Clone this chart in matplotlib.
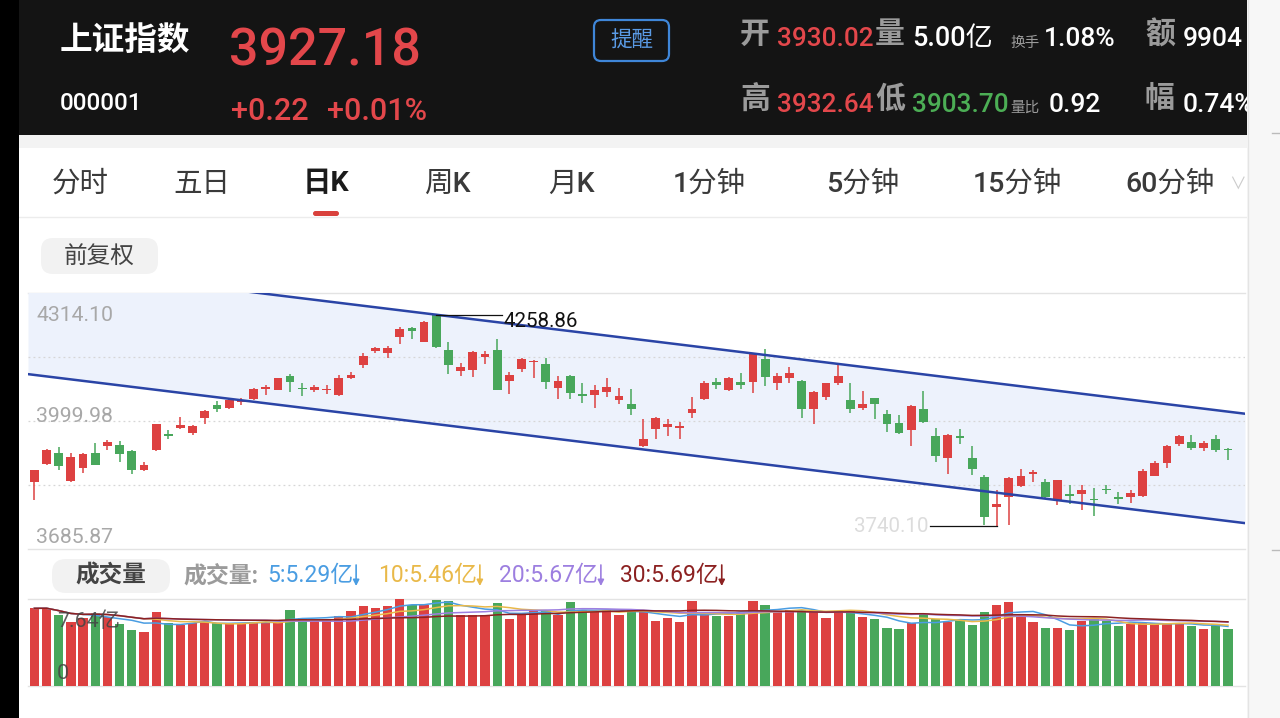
import numpy as np
import pandas as pd
import matplotlib
matplotlib.use('Agg')
import matplotlib.pyplot as plt
from matplotlib.patches import Rectangle, FancyBboxPatch

plt.rcParams['font.family'] = ['Roboto', 'Noto Sans CJK SC', 'DejaVu Sans']

# daily K, oldest first
opens = [3849.3, 3892.8, 3921.6, 3851.8, 3884.6, 3919.9, 3938.0, 3939.6, 3924.9, 3879.7,
         3929.0, 3968.4, 3983.2, 3970.8, 4007.8, 4038.2, 4031.6, 4046.4, 4054.6, 4079.2,
         4076.8, 4109.6, 4081.7, 4076.8, 4075.1, 4062.8, 4105.5, 4136.7, 4172.0, 4165.5,
         4206.5, 4228.7, 4194.2, 4258.86, 4173.7, 4122.8, 4124.4, 4155.6, 4173.7, 4097.3,
         4126.1, 4143.3, 4138.4, 4081.7, 4109.6, 4065.3, 4064.5, 4071.0, 4052.2, 4042.3,
         3937.2, 3979.1, 3984.8, 3983.2, 4019.3, 4053.0, 4094.8, 4075.1, 4095.7, 4095.7,
         4151.5, 4091.6, 4106.3, 4097.3, 4028.3, 4058.7, 4091.6, 4052.2, 4032.4, 4057.1,
         4017.7, 3994.7, 3978.2, 4030.0, 3962.6, 3909.3, 3962.6, 3909.3, 3861.6, 3787.7,
         3812.4, 3839.5, 3868.2, 3849.3, 3805.8, 3818.9, 3820.6, 3808.3, 3832.9, 3812.4,
         3812.4, 3814.0, 3864.1, 3896.1, 3943.8, 3947.9, 3933.9, 3954.4, 3930.02]
highs = [3879.0, 3930.6, 3935.5, 3920.8, 3920.8, 3946.2, 3953.6, 3950.3, 3927.3, 3898.6,
         3993.0, 3976.6, 4009.4, 3989.7, 4025.9, 4048.0, 4053.8, 4057.1, 4081.7, 4087.5,
         4106.3, 4114.6, 4091.6, 4089.1, 4087.5, 4112.1, 4120.3, 4167.1, 4180.3, 4183.5,
         4229.5, 4231.2, 4246.0, 4258.86, 4192.6, 4142.5, 4171.2, 4171.2, 4199.9, 4120.3,
         4154.8, 4149.0, 4153.2, 4109.6, 4112.1, 4091.6, 4089.1, 4106.3, 4080.9, 4077.6,
         4005.3, 4010.3, 4005.3, 3997.1, 4058.7, 4098.1, 4103.9, 4108.0, 4116.2, 4165.5,
         4175.3, 4116.2, 4132.6, 4099.8, 4073.5, 4094.0, 4140.8, 4093.2, 4073.5, 4057.1,
         4027.5, 4013.5, 4038.2, 4073.5, 3982.4, 3966.7, 3980.7, 3938.0, 3867.4, 3828.8,
         3861.6, 3882.2, 3878.0, 3857.5, 3855.1, 3841.1, 3842.7, 3835.3, 3842.7, 3824.7,
         3828.8, 3880.5, 3900.2, 3939.6, 3965.9, 3964.3, 3950.3, 3965.9, 3932.64]
lows = [3805.8, 3891.2, 3879.7, 3850.1, 3871.5, 3891.5, 3929.0, 3898.6, 3869.8, 3876.4,
        3925.7, 3954.4, 3980.7, 3965.1, 3991.4, 4020.9, 4030.0, 4038.2, 4050.5, 4062.8,
        4075.1, 4071.0, 4061.2, 4071.0, 4065.3, 4062.0, 4102.2, 4130.2, 4165.5, 4154.8,
        4187.6, 4201.6, 4192.6, 4178.6, 4114.6, 4109.6, 4108.0, 4139.2, 4075.1, 4066.9,
        4120.3, 4103.9, 4077.6, 4054.6, 4054.6, 4044.7, 4032.4, 4058.7, 4042.3, 4013.5,
        3935.5, 3954.4, 3961.8, 3956.1, 4007.0, 4052.2, 4077.6, 4073.5, 4079.2, 4069.4,
        4085.8, 4075.1, 4093.2, 4007.0, 3991.4, 4052.2, 4087.5, 4019.3, 4027.5, 4005.3,
        3972.5, 3968.4, 3938.0, 3995.5, 3898.6, 3868.2, 3942.1, 3867.4, 3742.6, 3740.10,
        3744.0, 3837.0, 3849.3, 3810.7, 3791.8, 3795.9, 3779.5, 3764.7, 3820.6, 3795.9,
        3797.6, 3812.4, 3863.3, 3883.8, 3938.0, 3929.0, 3925.7, 3923.2, 3903.70]
closes = [3878.0, 3929.0, 3888.7, 3910.9, 3919.1, 3892.0, 3947.9, 3919.1, 3878.0, 3890.4,
          3991.4, 3962.6, 3988.9, 3986.4, 4024.2, 4030.0, 4050.5, 4050.5, 4079.2, 4083.4,
          4103.9, 4095.7, 4077.6, 4083.4, 4078.4, 4106.3, 4113.7, 4158.9, 4177.8, 4177.8,
          4225.4, 4220.5, 4242.7, 4180.3, 4136.7, 4131.0, 4168.8, 4163.8, 4076.8, 4112.1,
          4151.5, 4147.4, 4095.7, 4098.1, 4069.4, 4060.4, 4075.1, 4083.4, 4060.4, 4029.1,
          3956.1, 4007.8, 3993.0, 3987.3, 4030.0, 4094.0, 4089.1, 4106.3, 4087.5, 4163.0,
          4108.0, 4109.6, 4117.8, 4028.3, 4071.0, 4091.6, 4109.6, 4030.0, 4042.3, 4042.3,
          3993.0, 3970.8, 4035.7, 3997.1, 3913.4, 3964.3, 3957.7, 3882.2, 3763.1, 3795.9,
          3860.0, 3863.3, 3873.9, 3812.4, 3853.4, 3814.0, 3828.8, 3804.2, 3828.8, 3808.3,
          3823.0, 3875.6, 3896.9, 3937.2, 3962.6, 3933.9, 3945.4, 3926.96, 3927.18]
# 成交量, 亿
volumes = [6.82, 6.84, 6.20, 5.63, 5.96, 6.40, 6.10, 5.46, 4.93, 4.72,
           6.46, 5.52, 5.37, 5.52, 5.58, 5.52, 5.52, 5.52, 5.66, 5.66,
           5.66, 6.70, 5.96, 5.81, 5.87, 6.11, 6.55, 7.05, 6.84, 6.99,
           7.64, 7.14, 7.08, 7.58, 7.43, 6.25, 6.25, 6.25, 7.29, 5.90,
           6.20, 6.55, 6.55, 6.25, 7.35, 6.64, 6.46, 6.70, 6.25, 6.64,
           6.55, 5.75, 5.96, 5.66, 7.43, 6.40, 6.17, 6.11, 6.40, 7.43,
           7.14, 6.49, 6.70, 6.64, 6.55, 5.96, 6.60, 6.55, 6.02, 5.90,
           5.13, 4.99, 5.52, 6.34, 5.87, 5.66, 5.75, 5.37, 6.49, 7.14,
           7.38, 6.11, 5.61, 5.07, 5.07, 4.96, 5.72, 5.87, 5.75, 5.28,
           5.43, 5.52, 5.52, 5.52, 5.43, 5.28, 5.02, 5.43, 5.00]

# hand drawn channel: price at two candle indexes
chan_x = [0, 98]
chan_upper = [4381.7, 4022.4]
chan_lower = [4112.7, 3753.4]

price_labels = [4314.10, 3999.98, 3685.87]
vol_max_label = '7.64亿'
ma_periods = [5, 10, 20, 30]
ma_labels = ['5:5.29亿', '10:5.46亿', '20:5.67亿', '30:5.69亿']
ma_colors = ['#4a9de2', '#e9b949', '#9d7fe0', '#8c2121']

tabs = ['分时', '五日', '日K', '周K', '月K', '1分钟', '5分钟', '15分钟', '60分钟']
tab_x = [80, 202, 326, 447, 571, 709, 863, 1017, 1170]

RED = '#dd4141'
GREEN = '#48a75b'
HRED = '#e3474b'
HGREEN = '#4cae55'
GREY = '#9b9b9b'

W, H = 1280, 718
fig = plt.figure(figsize=(W / 100, H / 100), dpi=100)
fig.patch.set_facecolor('white')

# background axes in screen pixels, y going down
bg = fig.add_axes([0, 0, 1, 1])
bg.set_xlim(0, W)
bg.set_ylim(H, 0)
bg.axis('off')
renderer = fig.canvas.get_renderer()


def txt(x, y, s, size, color, va='baseline', ha='left', weight='normal', z=5):
    return bg.text(x, y, s, fontsize=size, color=color, va=va, ha=ha,
                   fontweight=weight, zorder=z)


def right_edge(t):
    bb = t.get_window_extent(renderer)
    return bg.transData.inverted().transform((bb.x1, bb.y0))[0]


def pill(x, y, w, h, r, fc):
    bg.add_patch(FancyBboxPatch((x, y), w, h, boxstyle=f'round,pad=0,rounding_size={r}',
                                fc=fc, ec='none', zorder=2))


# header
bg.add_patch(Rectangle((0, 0), 1247, 135, fc='#141414', ec='none', zorder=1))
bg.add_patch(Rectangle((19, 135), 1228, 13, fc='#f3f3f3', ec='none', zorder=1))
txt(60, 41, '上证指数', 23.5, 'white', va='center', weight='bold')
txt(229, 65, '3927.18', 37.5, HRED, weight='medium')
txt(60, 110, '000001', 17.5, 'white', weight='medium')
txt(231, 120, '+0.22', 22, HRED, weight='medium')
txt(327, 120, '+0.01%', 22, HRED, weight='medium')
bg.add_patch(FancyBboxPatch((594, 20), 75, 41, boxstyle='round,pad=0,rounding_size=7',
                            fc='none', ec='#3f86d8', lw=1.6, zorder=3))
txt(631.5, 41, '提醒', 15.5, '#5a9be6', va='center', ha='center')

# quote block, two rows
txt(740, 35, '开', 21.5, GREY, va='center', weight='bold')
txt(777, 46.5, '3930.02', 18.8, HRED, weight='medium')
txt(875, 35, '量', 21.5, GREY, va='center', weight='bold')
txt(912, 46.5, '5.00亿', 19.5, 'white', weight='medium')
txt(1010, 46.5, '换手', 10.5, GREY)
txt(1044, 46.5, '1.08%', 19, 'white', weight='medium')
txt(1145, 35, '额', 21.5, GREY, va='center', weight='bold')
txt(1183, 46.5, '9904', 19, 'white', weight='medium')
txt(740, 99, '高', 21.5, GREY, va='center', weight='bold')
txt(777, 112, '3932.64', 18.8, HRED, weight='medium')
txt(875, 99, '低', 21.5, GREY, va='center', weight='bold')
txt(912, 112, '3903.70', 18.8, HGREEN, weight='medium')
txt(1010, 112, '量比', 10.5, GREY)
txt(1049, 112, '0.92', 19, 'white', weight='medium')
txt(1145, 99, '幅', 21.5, GREY, va='center', weight='bold')
txt(1183, 112, '0.74%', 19, 'white', weight='medium')

# period tabs
for label, x in zip(tabs, tab_x):
    if label == '日K':
        txt(x, 184, label, 20.5, '#1b1b1b', va='center', ha='center', weight='bold')
    else:
        txt(x, 184, label, 20.5, '#3a3a3a', va='center', ha='center', weight='medium')
txt(1237, 184, '∨', 12, '#cccccc', va='center', ha='center')
bg.add_patch(FancyBboxPatch((313, 211), 26, 5, boxstyle='round,pad=0,rounding_size=2.5',
                            fc='#d9413c', ec='none', zorder=3))
bg.plot([19, 1247], [216.5, 216.5], color='#ececec', lw=1, zorder=1)

pill(41, 238, 117, 36, 12, '#f2f2f2')
txt(99.5, 256, '前复权', 17, '#444444', va='center', ha='center', weight='medium')

# panel borders
for yy in [293, 548.5, 599, 686]:
    bg.plot([28, 1245], [yy, yy], color='#e3e3e3', lw=1, zorder=1)

# volume legend row, each MA value followed by a thin down arrow
pill(52, 559, 118, 34, 14, '#f2f2f2')
txt(111, 576, '成交量', 17, '#444444', va='center', ha='center', weight='bold')
txt(183, 576, '成交量:', 16.5, GREY, va='center', weight='bold')
for label, x, col in zip(ma_labels, [267, 378, 499, 620], ma_colors):
    t = txt(x, 576, label, 16.5, col, va='center')
    xa = right_edge(t) + 3
    bg.annotate('', xy=(xa, 586), xytext=(xa, 565),
                arrowprops=dict(arrowstyle='-|>,head_length=0.35,head_width=0.18',
                                color=col, lw=1.2, shrinkA=0, shrinkB=0), zorder=5)

# right side panel covers what runs off the header
bg.add_patch(Rectangle((1247, 0), 33, H, fc='#f7f7f7', ec='none', zorder=10))
bg.plot([1247.5, 1247.5], [0, H], color='#e4e4e4', lw=1, zorder=11)
bg.plot([1272, 1280], [133, 133], color='#bbbbbb', lw=1, zorder=11)
bg.plot([1272, 1280], [550, 550], color='#bbbbbb', lw=1, zorder=11)
bg.add_patch(Rectangle((0, 0), 19, H, fc='black', ec='none', zorder=12))

# price panel
idx = np.arange(len(opens))
o = np.array(opens)
hi = np.array(highs)
lo = np.array(lows)
c = np.array(closes)
cols = np.where(c >= o, RED, GREEN)
xlim = (-0.52, 99.4)

ax = fig.add_axes([28 / W, 1 - 548.5 / H, (1245 - 28) / W, (548.5 - 293) / H])
ax.set_xlim(*xlim)
ax.set_ylim(price_labels[2], price_labels[0])
ax.axis('off')

xs = np.array(xlim)
k_up = (chan_upper[1] - chan_upper[0]) / (chan_x[1] - chan_x[0])
k_lo = (chan_lower[1] - chan_lower[0]) / (chan_x[1] - chan_x[0])
up_line = chan_upper[0] + k_up * (xs - chan_x[0])
lo_line = chan_lower[0] + k_lo * (xs - chan_x[0])
ax.fill_between(xs, lo_line, up_line, color='#edf2fc', lw=0, zorder=0)

for v in np.linspace(price_labels[2], price_labels[0], 5)[1:-1]:
    ax.axhline(v, color='#d6d6d6', lw=0.9, ls=(0, (1.5, 2.5)), zorder=1)

ax.vlines(idx, lo, hi, colors=cols, lw=1.1, zorder=3)
body = np.maximum(np.abs(c - o), 2.5)
ax.bar(idx, body, bottom=np.minimum(o, c), width=0.72, color=cols, lw=0, zorder=4)

ax.plot(xs, up_line, color='#2a44a6', lw=1.8, zorder=5)
ax.plot(xs, lo_line, color='#2a44a6', lw=1.8, zorder=5)

for v, off in zip(price_labels, [-19.8, -1.1, 4.0]):
    ax.annotate(f'{v:.2f}', xy=(0.0066, v), xycoords=('axes fraction', 'data'),
                xytext=(0, off), textcoords='offset points', va='baseline',
                fontsize=15.3, color='#a8a8a8', zorder=6)

# max / min markers
i_hi = int(np.argmax(hi))
ax.plot([i_hi, i_hi + 5.4], [hi[i_hi], hi[i_hi]], color='#111111', lw=0.9, zorder=6)
ax.annotate(f'{hi[i_hi]:.2f}', xy=(i_hi + 5.4, hi[i_hi]), xytext=(1, -8.6),
            textcoords='offset points', va='baseline', fontsize=14.8,
            color='#111111', zorder=6)
i_lo = int(np.argmin(lo))
ax.plot([i_lo - 5.5, i_lo], [lo[i_lo], lo[i_lo]], color='#111111', lw=0.9, zorder=6)
ax.annotate(f'{lo[i_lo]:.2f}', xy=(i_lo - 5.5, lo[i_lo]), xytext=(-1, 0),
            textcoords='offset points', va='center', ha='right', fontsize=14.8,
            color='#dcdcdc', zorder=6)

# volume panel
vx = fig.add_axes([28 / W, 1 - 686 / H, (1245 - 28) / W, (686 - 599) / H])
vx.set_xlim(*xlim)
vx.set_ylim(0, 7.64)
vx.axis('off')
vx.bar(idx, volumes, width=0.76, color=cols, lw=0, zorder=2)
vol = pd.Series(volumes)
for n, col in zip(ma_periods, ma_colors):
    vx.plot(idx, vol.rolling(n, min_periods=1).mean(), color=col, lw=1.1, zorder=3)

fig.text(57 / W, 1 - 627 / H, vol_max_label, fontsize=15.4, color='#444444', alpha=0.85)
fig.text(57 / W, 1 - 679 / H, '0', fontsize=15.4, color='#444444', alpha=0.85)

fig.savefig('out.png', dpi=100, facecolor='white')
